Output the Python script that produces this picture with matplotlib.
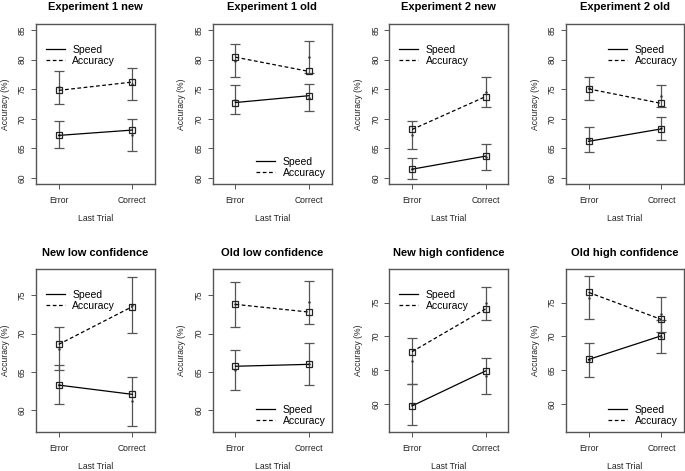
import numpy as np
import matplotlib
matplotlib.use('Agg')
import matplotlib.pyplot as plt
from matplotlib.lines import Line2D

plt.rcParams['font.family'] = ['Liberation Sans', 'DejaVu Sans']

# --- data ---
titles = ['Experiment 1 new', 'Experiment 1 old', 'Experiment 2 new', 'Experiment 2 old',
          'New low confidence', 'Old low confidence', 'New high confidence', 'Old high confidence']
trials = ['Error', 'Correct']

speed_mean = [[67.2, 68.1], [72.75, 73.9], [61.5, 63.7], [66.2, 68.3],
              [63.3, 62.1], [65.75, 66.0], [59.75, 64.9], [66.6, 70.1]]
acc_mean = [[74.8, 76.2], [80.4, 78.0], [68.2, 73.75], [75.05, 72.6],
            [68.6, 73.5], [73.8, 72.8], [67.75, 74.05], [76.5, 72.5]]

speed_lo = [[65.0, 64.6], [70.8, 71.25], [59.8, 61.4], [64.45, 66.4],
            [60.8, 58.0], [62.6, 63.3], [57.0, 61.55], [64.0, 67.55]]
speed_hi = [[69.6, 70.0], [75.65, 75.9], [63.35, 65.8], [68.6, 70.35],
            [65.95, 64.4], [67.9, 68.8], [63.0, 66.75], [69.1, 72.4]]
acc_lo = [[72.5, 73.2], [77.1, 77.8], [64.85, 72.0], [73.25, 72.0],
          [65.2, 70.1], [70.9, 71.2], [63.0, 72.45], [72.5, 70.7]]
acc_hi = [[78.15, 78.6], [82.55, 83.05], [69.7, 77.05], [77.05, 75.7],
          [70.8, 77.4], [76.7, 76.9], [69.7, 77.35], [78.85, 75.85]]

ylims = [(59, 86)] * 4 + [(57.2, 78.4), (57.2, 78.4), (55.9, 79.95), (55.9, 79.95)]
yticks = [[60, 65, 70, 75, 80, 85]] * 4 + [[60, 65, 70, 75]] * 4
legend_pos = ['ul', 'lr', 'ul', 'ur', 'ul', 'lr', 'ul', 'lr']

W, H = 685, 471
fig = plt.figure(figsize=(W / 100, H / 100), dpi=100)

col_left = [36, 212.7, 389.3, 566]
row_top = [24, 269]
row_bot = [184, 432]
box_w = 119

grey = '#555555'
x = np.arange(1, 3)

for i, title in enumerate(titles):
    r, c = divmod(i, 4)
    left = col_left[c] / W
    bottom = 1 - row_bot[r] / H
    height = (row_bot[r] - row_top[r]) / H
    ax = fig.add_axes([left, bottom, min(box_w, W - 1 - col_left[c]) / W, height])

    # error bars (with their small centre dot)
    for lo, hi in [(speed_lo[i], speed_hi[i]), (acc_lo[i], acc_hi[i])]:
        lo = np.array(lo); hi = np.array(hi)
        mid = (lo + hi) / 2
        ax.errorbar(x, mid, yerr=[mid - lo, hi - mid], fmt='.', ms=1.5, color='#333333',
                    ecolor=grey, elinewidth=0.9, capsize=3.6, capthick=0.9, zorder=2)

    ax.plot(x, speed_mean[i], '-', color='black', lw=0.9, marker='s', ms=3.8,
            mfc='none', mec='#222222', mew=0.9, zorder=3)
    ax.plot(x, acc_mean[i], '--', dashes=(3, 2), color='black', lw=0.9, marker='s', ms=3.8,
            mfc='none', mec='#222222', mew=0.9, zorder=3)

    ax.set_xlim(0.69, 2.31)
    ax.set_ylim(*ylims[i])
    ax.set_xticks(x)
    ax.set_xticklabels(trials, fontsize=6.2, color='#222222')
    ax.set_yticks(yticks[i])
    ax.set_yticklabels([str(t) for t in yticks[i]], fontsize=6.2, rotation=90,
                       va='center', color='#222222')
    ax.tick_params(axis='x', length=3.5, width=0.7, color=grey, pad=5)
    ax.tick_params(axis='y', length=3.5, width=0.7, color=grey, pad=3)
    for s in ax.spines.values():
        s.set_color(grey)
        s.set_linewidth(1.0)

    ax.set_title(title, fontsize=8, fontweight='bold', pad=10 if r == 0 else 9)
    ax.set_xlabel('Last Trial', fontsize=6.2, labelpad=6.5, color='#222222')
    ax.set_ylabel('Accuracy (%)', fontsize=6.2, labelpad=6, color='#222222')

    handles = [Line2D([], [], color='black', lw=0.9),
               Line2D([], [], color='black', lw=0.9, ls='--', dashes=(3, 2))]
    loc = legend_pos[i]
    if loc == 'ul':
        kw = dict(loc='upper left', bbox_to_anchor=(0.03, 0.91))
    elif loc == 'ur':
        kw = dict(loc='upper right', bbox_to_anchor=(1.0, 0.91))
    else:
        kw = dict(loc='lower right', bbox_to_anchor=(1.0, 0.0))
    ax.legend(handles, ['Speed', 'Accuracy'], frameon=False, fontsize=7.5,
              handlelength=1.8, handletextpad=0.75, labelspacing=0.1,
              borderaxespad=0.2, **kw)

fig.savefig('out.png', dpi=100)
